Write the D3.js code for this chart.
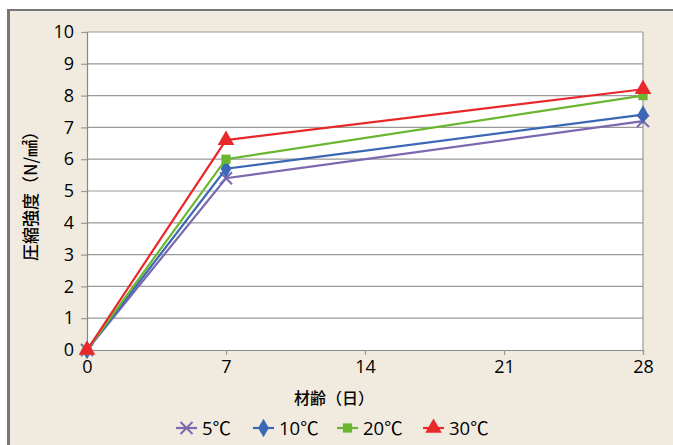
<!DOCTYPE html>
<html>
<head>
<meta charset="utf-8">
<style>
  body { margin: 0; background: #fff; }
  svg { display: block; }
  .axis text { font-family: "Open Sans", "Noto Sans", sans-serif; font-size: 18px; fill: #000; }
</style>
</head>
<body>
<svg width="673" height="445"></svg>
<script src="https://d3js.org/d3.v7.min.js"></script>
<script>
var days = [0, 7, 28];
var xTicks = [0, 7, 14, 21, 28];
var yTicks = [0, 1, 2, 3, 4, 5, 6, 7, 8, 9, 10];
var seriesNames = ["5℃", "10℃", "20℃", "30℃"];
var t5 = [0, 5.4, 7.2];
var t10 = [0, 5.7, 7.4];
var t20 = [0, 6.0, 8.0];
var t30 = [0, 6.6, 8.2];

var colors = ["#7b68b0", "#3b68b5", "#6ab72f", "#e8282b"];
var shapes = ["cross", "diamond", "square", "triangle"];
var series = [t5, t10, t20, t30].map(function (v, i) {
    return {name: seriesNames[i], values: v, color: colors[i], shape: shapes[i]};
});

var svg = d3.select("svg");

// frame
svg.append("rect").attr("x", 7).attr("y", 9).attr("width", 666).attr("height", 436).attr("fill", "#777");
svg.append("rect").attr("x", 10).attr("y", 11).attr("width", 663).attr("height", 434).attr("fill", "#f1ebdf");

var x = d3.scaleLinear().domain([0, 28]).range([87, 643]);
var y = d3.scaleLinear().domain([0, 10]).range([350, 32]);

svg.append("rect").attr("x", x(0)).attr("y", y(10))
    .attr("width", x(28) - x(0)).attr("height", y(0) - y(10)).attr("fill", "#fff");

// gridlines
svg.append("g").selectAll("line").data(yTicks.slice(1)).enter().append("line")
    .attr("x1", x(0)).attr("x2", x(28))
    .attr("y1", function (d) { return y(d); }).attr("y2", function (d) { return y(d); })
    .attr("stroke", "#999").attr("stroke-width", 1.2);

svg.append("line").attr("x1", x(28)).attr("x2", x(28)).attr("y1", y(10)).attr("y2", y(0))
    .attr("stroke", "#999").attr("stroke-width", 1.2);

var gx = svg.append("g").attr("class", "axis").attr("transform", "translate(0," + y(0) + ")")
    .call(d3.axisBottom(x).tickValues(xTicks).tickSize(5).tickPadding(5));
var gy = svg.append("g").attr("class", "axis").attr("transform", "translate(" + x(0) + ",0)")
    .call(d3.axisLeft(y).tickValues(yTicks).tickSize(6).tickPadding(7));
[gx, gy].forEach(function (g) {
    g.select(".domain").attr("stroke", "#888").attr("stroke-width", 1.2);
    g.selectAll(".tick line").attr("stroke", "#999").attr("stroke-width", 1.2);
});

// lines
var line = d3.line()
    .x(function (d, i) { return x(days[i]); })
    .y(function (d) { return y(d); });

function marker(g, s, cx, cy) {
    if (s.shape === "cross") {
        g.append("path").attr("d", "M" + (cx - 6) + "," + (cy - 6) + "L" + (cx + 6) + "," + (cy + 6) +
            "M" + (cx - 6) + "," + (cy + 6) + "L" + (cx + 6) + "," + (cy - 6))
            .attr("stroke", s.color).attr("stroke-width", 2).attr("fill", "none");
    } else {
        var type = s.shape === "diamond" ? d3.symbolDiamond : s.shape === "square" ? d3.symbolSquare : d3.symbolTriangle;
        var size = s.shape === "diamond" ? 100 : s.shape === "square" ? 85 : 120;
        g.append("path").attr("d", d3.symbol().type(type).size(size)())
            .attr("transform", "translate(" + cx + "," + cy + ")")
            .attr("fill", s.color);
    }
}

series.forEach(function (s) {
    var g = svg.append("g");
    g.append("path").datum(s.values).attr("d", line)
        .attr("fill", "none").attr("stroke", s.color).attr("stroke-width", 2.2);
    s.values.forEach(function (v, i) { marker(g, s, x(days[i]), y(v)); });
});

// axis titles
svg.append("text").attr("x", 334).attr("y", 404).attr("text-anchor", "middle")
    .attr("font-family", "Noto Sans CJK JP").attr("font-size", 16).attr("font-weight", 500).attr("fill", "#000")
    .text("材齢（日）");
svg.append("text").attr("transform", "translate(37,192) rotate(-90)").attr("text-anchor", "middle")
    .attr("font-family", "Noto Sans CJK JP").attr("font-size", 17).attr("font-weight", 500).attr("fill", "#000")
    .text("圧縮強度（N/㎟）");

// legend
var legX = [176, 253, 337, 423];
series.forEach(function (s, i) {
    var g = svg.append("g");
    var cy = 428;
    g.append("line").attr("x1", legX[i]).attr("x2", legX[i] + 21).attr("y1", cy).attr("y2", cy)
        .attr("stroke", s.color).attr("stroke-width", 2.2);
    marker(g, s, legX[i] + 10.5, cy);
    g.append("text").attr("x", legX[i] + 26).attr("y", cy).attr("dy", "0.36em")
        .attr("font-family", "'Open Sans', 'Noto Sans CJK JP', sans-serif").attr("font-size", 18.5).attr("fill", "#000")
        .text(s.name);
});
</script>
</body>
</html>
